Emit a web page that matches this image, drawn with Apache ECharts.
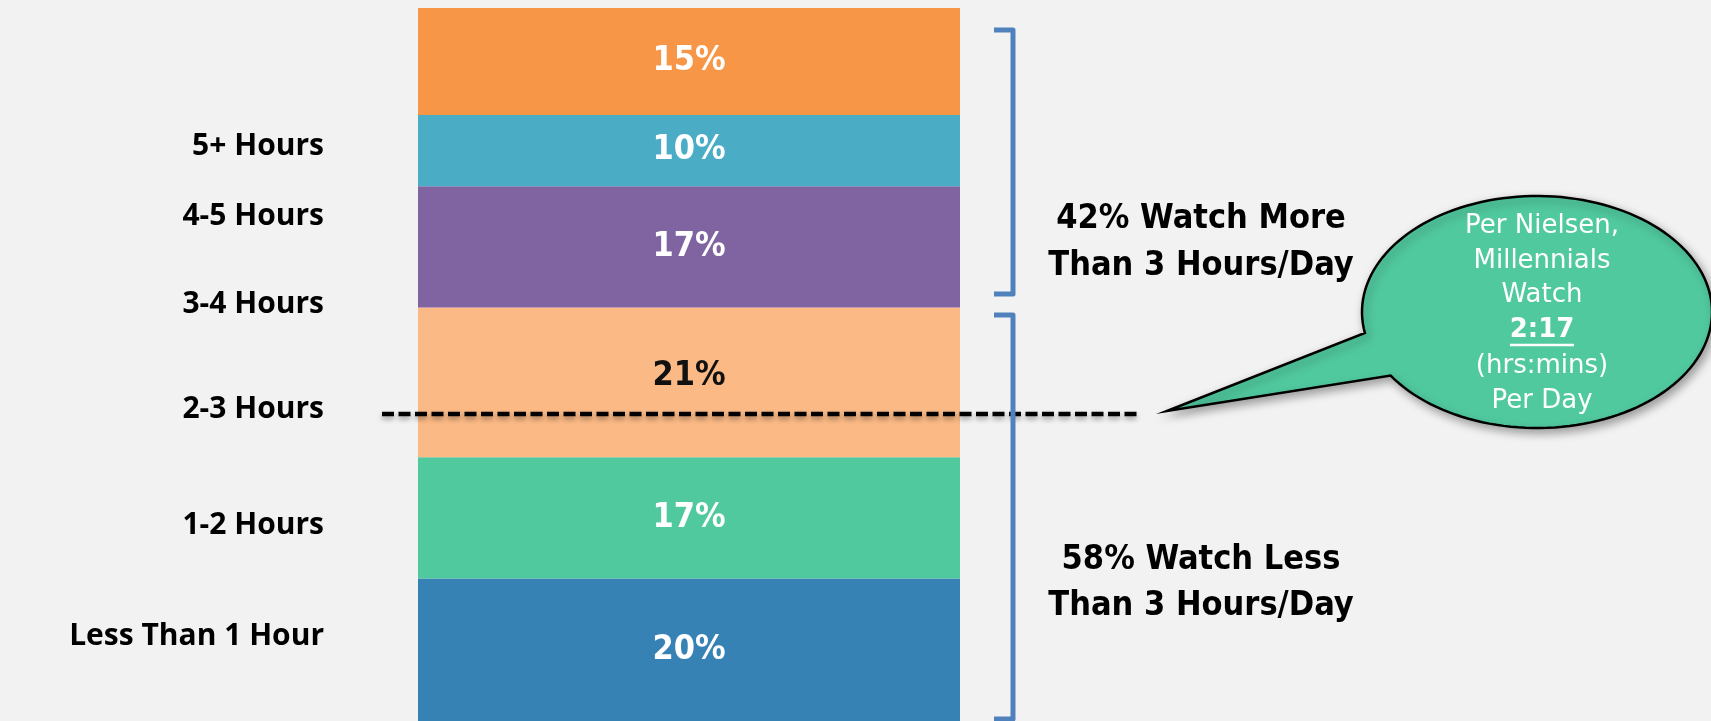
<!DOCTYPE html>
<html>
<head>
<meta charset="utf-8">
<script src="https://cdn.jsdelivr.net/npm/echarts@6/dist/echarts.min.js"></script>
<style>
  html, body { margin: 0; padding: 0; background: #f2f2f2; }
  #chart { width: 1711px; height: 721px; }
</style>
</head>
<body>
<div id="chart"></div>
<script>
// Categories, bottom of the stack to top
const categories = ['Less Than 1 Hour', '1-2 Hours', '2-3 Hours', '3-4 Hours', '4-5 Hours', '5+ Hours'];
// Share of millennials (%) per daily TV time
const shares = [20, 17, 21, 17, 10, 15];
const segmentColors = ['#3782b5', '#51c99f', '#fab985', '#8064a2', '#4bacc6', '#f79646'];
const labelColors = ['#ffffff', '#ffffff', '#111111', '#ffffff', '#ffffff', '#ffffff'];
// Left-hand labels, top to bottom as they appear on the slide
const sideLabels = ['5+ Hours', '4-5 Hours', '3-4 Hours', '2-3 Hours', '1-2 Hours', 'Less Than 1 Hour'];
const bubbleLines = ['Per Nielsen,', 'Millennials', 'Watch', '2:17', '(hrs:mins)', 'Per Day'];

const moreThan3 = shares.slice(3).reduce((a, b) => a + b, 0);
const lessThan3 = shares.slice(0, 3).reduce((a, b) => a + b, 0);

const chart = echarts.init(document.getElementById('chart'));

const condFont = '"DejaVu Sans Condensed", "DejaVu Sans", sans-serif';

const series = categories.map((name, i) => ({
  name: name,
  type: 'bar',
  stack: 'total',
  barWidth: '100%',
  barCategoryGap: 0,
  data: [shares[i]],
  itemStyle: { color: segmentColors[i] },
  label: {
    show: true,
    position: 'inside',
    formatter: '{c}%',
    color: labelColors[i],
    fontFamily: condFont,
    fontWeight: 'bold',
    fontSize: 34,
    offset: i === 2 ? [0, -6] : [0, 0]
  },
  emphasis: { disabled: true },
  silent: true
}));

// Side labels' vertical positions (pixels) as laid out on the slide
const sideLabelY = [146, 216, 304, 409, 525, 636];
const sideGraphics = sideLabels.map((t, i) => ({
  type: 'text',
  z: 100,
  style: {
    text: t,
    x: 324,
    y: sideLabelY[i],
    align: 'right',
    verticalAlign: 'middle',
    font: 'bold 30px "Open Sans", "Noto Sans", sans-serif',
    fill: '#000'
  }
}));

const bubbleY = [226, 261, 295, 330, 366, 401];
const bubbleGraphics = bubbleLines.map((t, i) => ({
  type: 'text',
  z: 110,
  style: {
    text: t,
    x: 1542,
    y: bubbleY[i],
    align: 'center',
    verticalAlign: 'middle',
    font: (i === 3 ? 'bold ' : '') + '26px "DejaVu Sans", sans-serif',
    fill: '#ffffff'
  }
}));

// Speech-bubble outline: ellipse with a pointer tail
function bubbleOutline() {
  const cx = 1537, cy = 312, rx = 175, ry = 116;
  const a1 = Math.atan2((333 - cy) / ry, (1365 - cx) / rx); // tail start
  let a2 = Math.atan2((375 - cy) / ry, (1392 - cx) / rx);   // tail end
  while (a2 <= a1) a2 += Math.PI * 2;
  const pts = [[1167, 411]];
  const n = 140;
  for (let k = 0; k <= n; k++) {
    const a = a1 + (a2 - a1) * k / n;
    pts.push([cx + rx * Math.cos(a), cy + ry * Math.sin(a)]);
  }
  return pts;
}

const rightTextFont = 'bold 34px ' + condFont;

chart.setOption({
  backgroundColor: '#f2f2f2',
  animation: false,
  grid: { left: 418, width: 542, top: 8, height: 720 },
  xAxis: { type: 'category', data: ['TV'], show: false },
  yAxis: { type: 'value', min: 0, max: 100, show: false },
  series: series,
  graphic: [
    ...sideGraphics,
    // dashed reference line (2:17 average)
    {
      type: 'line', z: 90,
      shape: { x1: 382, y1: 414, x2: 1140, y2: 414 },
      style: {
        stroke: '#000', lineWidth: 4.5, lineDash: [12, 4.5],
        shadowBlur: 5, shadowOffsetY: 3, shadowColor: 'rgba(0,0,0,0.35)'
      }
    },
    // brackets
    {
      type: 'polyline', z: 95,
      shape: { points: [[994, 30], [1013, 30], [1013, 294], [994, 294]] },
      style: { stroke: '#4f81bd', lineWidth: 5, lineJoin: 'round', fill: null }
    },
    {
      type: 'polyline', z: 95,
      shape: { points: [[994, 315], [1013, 315], [1013, 719], [994, 719]] },
      style: { stroke: '#4f81bd', lineWidth: 5, lineJoin: 'round', fill: null }
    },
    // right-hand summaries
    {
      type: 'text', z: 100,
      style: {
        text: moreThan3 + '% Watch More\nThan 3 Hours/Day',
        x: 1201, y: 243, align: 'center', verticalAlign: 'middle',
        font: rightTextFont, lineHeight: 47, fill: '#000'
      }
    },
    {
      type: 'text', z: 100,
      style: {
        text: lessThan3 + '% Watch Less\nThan 3 Hours/Day',
        x: 1201, y: 583, align: 'center', verticalAlign: 'middle',
        font: rightTextFont, lineHeight: 46, fill: '#000'
      }
    },
    // speech bubble
    {
      type: 'polygon', z: 105,
      shape: { points: bubbleOutline() },
      style: {
        fill: '#51c99f', stroke: '#000', lineWidth: 2.5, lineJoin: 'miter',
        shadowBlur: 10, shadowOffsetX: 3, shadowOffsetY: 4, shadowColor: 'rgba(0,0,0,0.35)'
      }
    },
    ...bubbleGraphics,
    {
      type: 'line', z: 110,
      shape: { x1: 1510, y1: 345, x2: 1574, y2: 345 },
      style: { stroke: '#ffffff', lineWidth: 2.5 }
    }
  ]
});
</script>
</body>
</html>
